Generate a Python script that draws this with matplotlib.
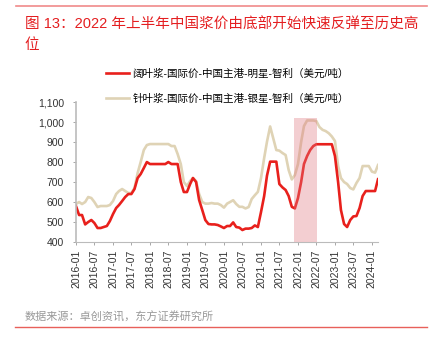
import matplotlib
matplotlib.use("Agg")
import matplotlib.pyplot as plt
import matplotlib.dates as mdates
from matplotlib.lines import Line2D
import pandas as pd

plt.rcParams['font.family'] = ['Liberation Sans', 'Noto Sans CJK SC', 'DejaVu Sans']

dates = pd.date_range('2016-01-01', periods=99, freq='MS')

hardwood = [580, 535, 535, 488, 500, 510, 495, 470, 470, 475, 480, 505,
            540, 570, 585, 605, 625, 640, 640, 665, 720, 740, 770, 800,
            790, 790, 790, 790, 790, 790, 800, 790, 790, 790, 700, 650,
            650, 690, 720, 700, 610, 560, 510, 490, 488, 488, 485, 478,
            470, 480, 480, 498, 475, 472, 460, 467, 467, 470, 483, 475,
            550, 630, 732, 802, 802, 802, 690, 673, 660, 630, 576, 568,
            620, 700, 790, 830, 860, 880, 889, 889, 889, 889, 889, 889,
            830, 700, 560, 490, 475, 510, 528, 530, 570, 630, 655, 655,
            655, 655, 714]

softwood = [590, 600, 590, 600, 625, 620, 600, 575, 580, 580, 580, 585,
            605, 640, 655, 665, 655, 645, 645, 670, 745, 800, 860, 885,
            890, 890, 890, 890, 890, 890, 890, 880, 880, 840, 790, 700,
            680, 705, 720, 705, 640, 600, 592, 592, 595, 592, 592, 585,
            572, 592, 600, 609, 590, 576, 576, 568, 575, 615, 634, 651,
            720, 820, 902, 978, 920, 860, 857, 845, 835, 760, 713, 735,
            790, 900, 980, 1008, 1008, 1008, 1005, 975, 961, 955, 944, 928,
            905, 780, 720, 700, 690, 670, 663, 695, 720, 780, 780, 780,
            752, 747, 785]

label_hw = '阔叶浆-国际价-中国主港-明星-智利（美元/吨）'
label_sw = '针叶浆-国际价-中国主港-银星-智利（美元/吨）'
shade_start, shade_end, shade_top = '2021-11-25', '2022-07-05', 1020
title = '图 13：2022 年上半年中国浆价由底部开始快速反弹至历史高\n位'
source = '数据来源：卓创资讯，东方证券研究所'
yticks = [400, 500, 600, 700, 800, 900, 1000, 1100]

fig = plt.figure(figsize=(4.34, 3.38), dpi=100)
ax = fig.add_axes([0.175, 0.284, 0.696, 0.414])

l_sw, = ax.plot(dates, softwood, color='#DFD3B5', lw=1.9, label=label_sw)
l_hw, = ax.plot(dates, hardwood, color='#E8201C', lw=1.9, label=label_hw)
ax.fill_between([pd.Timestamp(shade_start), pd.Timestamp(shade_end)], 400, shade_top,
                color='#E07880', alpha=0.36, lw=0, zorder=3)

ax.set_ylim(400, 1100)
ax.set_yticks(yticks)
ax.set_yticklabels([f'{v:,}' for v in yticks], fontsize=7.5, color='#333333')
ax.set_xlim(pd.Timestamp('2016-01-01'), pd.Timestamp('2024-03-01'))
ax.xaxis.set_major_locator(mdates.MonthLocator(bymonth=[1, 7]))
ax.xaxis.set_major_formatter(mdates.DateFormatter('%Y-%m'))
plt.setp(ax.get_xticklabels(), rotation=90, fontsize=7.5, color='#333333')
for s in ['top', 'right']:
    ax.spines[s].set_visible(False)
for s in ['left', 'bottom']:
    ax.spines[s].set_color('#BBBBBB')
    ax.spines[s].set_linewidth(0.8)
ax.spines['left'].set_linewidth(1.2)
ax.tick_params(axis='y', length=2.5, width=0.6, color='#999999', pad=6)
ax.tick_params(axis='x', length=2.5, width=0.6, color='#999999', pad=3)

fig.legend(handles=[l_hw, l_sw], loc='upper left', bbox_to_anchor=(0.244, 0.797),
           frameon=False, fontsize=7.6, handlelength=2.2, handletextpad=0.3,
           labelspacing=1.35, borderaxespad=0, borderpad=0)

fig.text(0.057, 0.947, title, fontsize=10.5, color='#E41E20', va='top', ha='left',
         linespacing=1.55)
fig.text(0.057, 0.062, source, fontsize=8, color='#999999', va='center', ha='left')
fig.add_artist(Line2D([0.037, 0.984], [0.983, 0.983], color='#F08A8A', lw=1.2))
fig.add_artist(Line2D([0.035, 0.984], [0.032, 0.032], color='#E8605A', lw=1.0))

fig.savefig('out.png', dpi=100)
